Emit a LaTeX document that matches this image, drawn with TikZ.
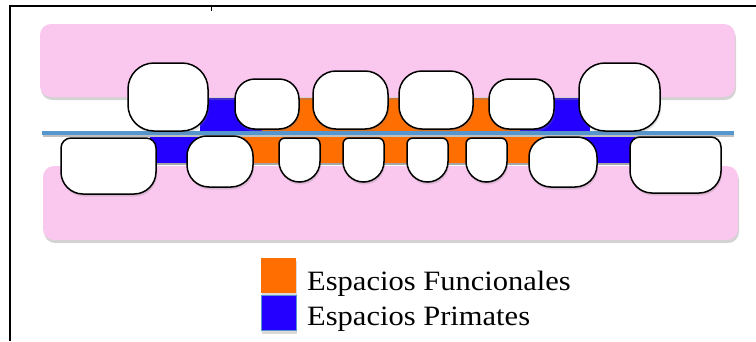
\documentclass[tikz,border=0pt]{standalone}
\usepackage{fontspec}
\usetikzlibrary{shadows}

\newfontfamily\legendfont{Liberation Serif}[FakeStretch=1.09]

\definecolor{encia}{RGB}{250,199,238}
\definecolor{funcional}{RGB}{255,110,0}
\definecolor{primate}{RGB}{35,0,255}
\definecolor{oclusal}{RGB}{84,150,205}

\tikzset{
  gumbox/.style={fill=encia, rounded corners=11pt,
    drop shadow={shadow xshift=1pt, shadow yshift=-3pt, opacity=0.35}},
  tooth/.style={draw=black, fill=white, line width=1.5pt,
    drop shadow={shadow xshift=1pt, shadow yshift=-2.5pt, opacity=0.25}},
  swatch/.style={minimum size=35pt, inner sep=0pt,
    drop shadow={shadow xshift=1pt, shadow yshift=-3pt, opacity=0.3}},
  legendtext/.style={anchor=base west, inner sep=0pt, font=\legendfont\fontsize{28}{34}\selectfont},
}

\begin{document}
\begin{tikzpicture}[x=1pt,y=-1pt]
\useasboundingbox (0,0) rectangle (756,341);

% frame
\draw[line width=2pt] (10,341) -- (10,6) -- (756,6);
\draw[line width=1pt] (211,6) -- (211,11);

% spaces between the teeth
\fill[primate] (200,98) rectangle (262,131);
\fill[funcional] (262,98) rectangle (520,131);
\fill[primate] (520,98) rectangle (590,131);
\fill[primate] (150,134) rectangle (220,163);
\fill[funcional] (220,134) rectangle (563,163);
\fill[primate] (563,134) rectangle (635,163);
\draw[black!35, line width=1.5pt] (150,164) -- (635,164);

% gums
\path[gumbox] (40,24) rectangle (735,97);
\path[gumbox] (43,166) rectangle (738,240);

% occlusal plane
\draw[black!25, line width=2pt] (43,136) -- (734,136);
\draw[oclusal, line width=4pt] (42,133) -- (734,133);

% upper teeth
\foreach \xa/\ya/\xb/\yb/\r in {128/63/208/131/26, 235/79/299/129/20,
    313/71/388/129/23, 399/71/473/129/23, 489/79/554/129/20, 579/63/660/131/26}
  \draw[tooth, rounded corners=\r pt] (\xa,\ya) rectangle (\xb,\yb);

% lower teeth: small top corners, round bottom
\foreach \xa/\ya/\xb/\yb/\rt/\rb in {61/138/156/194/10/22, 187/136/253/187/20/22,
    279/138/320/182/6/20.5, 343/138/384/182/6/20.5, 407/138/448/182/6/20.5,
    466/138/507/182/6/20.5, 529/137/597/187/20/22, 630/137/721/193/10/22}
  \draw[tooth] (\xa+\rt,\ya) -- (\xb-\rt,\ya)
    arc[start angle=-90, end angle=0, radius=\rt] -- (\xb,\yb-\rb)
    arc[start angle=0, end angle=90, radius=\rb] -- (\xa+\rb,\yb)
    arc[start angle=90, end angle=180, radius=\rb] -- (\xa,\ya+\rt)
    arc[start angle=180, end angle=270, radius=\rt] -- cycle;

% legend
\node[swatch, fill=funcional] (fswatch) at (278.5,275.5) {};
\node[swatch, fill=primate, draw=oclusal, line width=1pt] (pswatch) at (278.5,313) {};
\node[legendtext] (ftext) at (307,290) {Espacios Funcionales};
\node[legendtext] (ptext) at (307,325) {Espacios Primates};
\end{tikzpicture}
\end{document}
